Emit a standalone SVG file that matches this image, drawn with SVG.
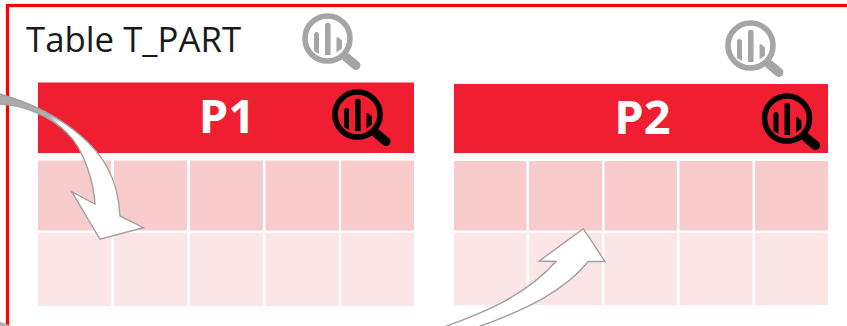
<svg xmlns="http://www.w3.org/2000/svg" width="847" height="326" viewBox="0 0 847 326">
<style>
.hdr{fill:#ef1e30}
.r1{fill:#f8cbcd}
.r2{fill:#fbe5e6}
.arrow{stroke:#a0a0a0;stroke-width:1.4;stroke-linejoin:miter}
.title{font-family:"Open Sans","Noto Sans",sans-serif;font-size:34.8px;fill:#1a1a1a}
.ph{font-family:"Open Sans","Noto Sans",sans-serif;font-size:47px;font-weight:700;fill:#fff;text-anchor:middle}
.ring{fill:none;stroke-width:5.600}
.hand{fill:none;stroke-width:9;stroke-linecap:round}
.bar{stroke:none}
.grey{stroke:#a5a5a5;fill:#a5a5a5}
.black{stroke:#000;fill:#000}
</style>
<defs>
<linearGradient id="g1" gradientUnits="userSpaceOnUse" x1="0" y1="100" x2="80" y2="125"><stop offset="0" stop-color="#a8a8a8"/><stop offset="0.62" stop-color="#b0b0b0"/><stop offset="0.78" stop-color="#fff"/></linearGradient>
<g id="lens">
<circle class="ring" cx="0" cy="0" r="22.500"/>
<path class="bar" d="M-13.500 12.500V-4a2.500 2.500 0 0 1 5 0V15.500ZM-2.500 16.500V-13a2.800 2.800 0 0 1 5.600 0V16.500ZM9 14V-1a2.400 2.400 0 0 1 2 0L14.500 2V10Z"/>
<path class="hand" d="M19 19L28.500 27"/>
</g>
</defs>
<rect id="frame" x="7.500" y="5.500" width="900" height="400" fill="#fff" stroke="#f00" stroke-width="3.200"/>
<g id="title"><text class="title" x="26" y="52">Table T_PART</text></g>
<g id="icon-table-1"><use href="#lens" class="grey" transform="translate(327.500,38.500)"/></g>
<g id="icon-table-2"><use href="#lens" class="grey" transform="translate(750.500,45.500)"/></g>
<g id="P1">
<rect class="hdr" x="38" y="82.500" width="376" height="70.500"/>
<text class="ph" x="227" y="133">P1</text>
<use href="#lens" class="black" transform="translate(357.500,114.500)"/>
<rect class="r1" x="38" y="160.500" width="73" height="70"/><rect class="r1" x="114" y="160.500" width="73" height="70"/><rect class="r1" x="190" y="160.500" width="73" height="70"/><rect class="r1" x="265.500" y="160.500" width="73.500" height="70"/><rect class="r1" x="341" y="160.500" width="73" height="70"/>
<rect class="r2" x="38" y="233" width="73" height="73"/><rect class="r2" x="114" y="233" width="73" height="73"/><rect class="r2" x="190" y="233" width="73" height="73"/><rect class="r2" x="265.500" y="233" width="73.500" height="73"/><rect class="r2" x="341" y="233" width="73" height="73"/>
</g>
<g id="P2">
<rect class="hdr" x="454" y="84" width="374" height="69"/>
<text class="ph" x="642.500" y="134">P2</text>
<use href="#lens" class="black" transform="translate(787,118.500)"/>
<rect class="r1" x="454" y="161" width="72.500" height="69.500"/><rect class="r1" x="529" y="161" width="73" height="69.500"/><rect class="r1" x="604.500" y="161" width="72.500" height="69.500"/><rect class="r1" x="679.500" y="161" width="73" height="69.500"/><rect class="r1" x="755" y="161" width="73" height="69.500"/>
<rect class="r2" x="454" y="233" width="72.500" height="72"/><rect class="r2" x="529" y="233" width="73" height="72"/><rect class="r2" x="604.500" y="233" width="72.500" height="72"/><rect class="r2" x="679.500" y="233" width="73" height="72"/><rect class="r2" x="755" y="233" width="73" height="72"/>
</g>
<g id="connectors">
<path class="arrow" fill="url(#g1)" d="M-2 93.500C35 104 60 118 80 135C100 152 118 175 120 216L143.300 227.700L100 239.300L71.700 191.700L95 204C94 185 85 150 67 133C50 116 25 105 -2 104Z"/>
<path class="arrow" fill="#fff" d="M444 327C485 312 525 296 556 261.500L539.300 261L583.300 228.700L605 261.500L588.300 261.500C565 290 530 308 478 327Z"/>
<path fill="#b0b0b0" d="M-1 321.500L13 326.500H-1Z"/>
</g>
</svg>
